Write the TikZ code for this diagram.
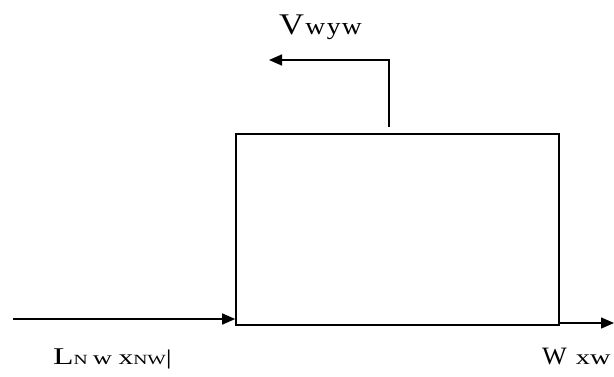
\documentclass[tikz,border=0pt]{standalone}
\usepackage{fontspec}
\setmainfont{Liberation Serif}
\usetikzlibrary{arrows.meta}

\newcommand{\fs}[1]{\fontsize{#1}{#1}\selectfont}

\begin{document}
\begin{tikzpicture}[
    x=1pt, y=-1pt,
    unit/.style={draw, line width=1.6pt, inner sep=0pt, minimum width=323pt, minimum height=191pt},
    flow/.style={line width=1.5pt, -{Triangle[length=13pt, width=11pt]}},
    lbl/.style={inner sep=0pt, anchor=base west}
]
    \useasboundingbox (0,0) rectangle (614,376);

    % Equipo
    \node[unit] (box) at (397.5,229.5) {};

    % Puntos de las corrientes
    \coordinate (feed) at (13,319);
    \coordinate (feedend) at (box.west |- feed);
    \coordinate (vapstart) at (389,127);
    \coordinate (vapbend) at (389,60);
    \coordinate (vapend) at (269,60);
    \coordinate (botstart) at (box.east |- 0,323);
    \coordinate (botend) at (614,323);

    % Corrientes
    \draw[flow] (feed) -- (feedend);
    \draw[flow] (vapstart) -- (vapbend) -- (vapend);
    \draw[flow] (botstart) -- (botend);

    % Etiquetas
    \node[lbl] (vlbl) at (279,34)
        {\scalebox{1.15}[1]{\fs{30}V\hspace{1pt}\fs{24}w\hspace{1.5pt}y\hspace{1pt}w}};
    \node[lbl] (llbl) at (53,364)
        {\scalebox{1.4}[1]{\fs{24}L\fs{14}N \fs{19}w \fs{21}x\fs{14}NW\fs{21}|}};
    \node[lbl] (wlbl) at (542,364)
        {\scalebox{1.05}[1]{\fs{25}W}\hspace{9pt}\scalebox{1.35}[1]{\fs{21}xw}};

\end{tikzpicture}
\end{document}
